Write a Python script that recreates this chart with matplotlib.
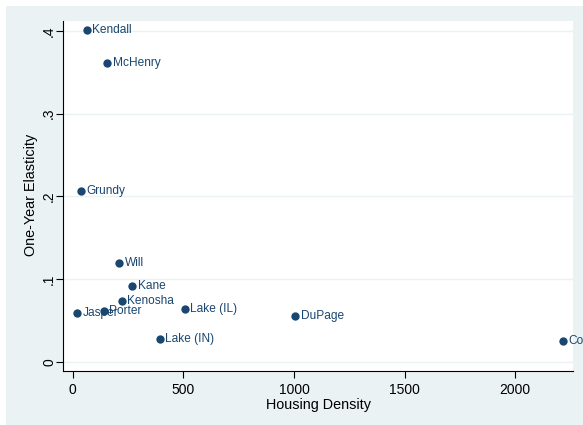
import matplotlib
matplotlib.use("Agg")
import matplotlib.pyplot as plt
from matplotlib.patches import Rectangle

plt.rcParams['font.family'] = ['Liberation Sans', 'DejaVu Sans']

counties = ["Kendall", "McHenry", "Grundy", "Will", "Kane", "Kenosha", "Jasper",
            "Porter", "Lake (IL)", "Lake (IN)", "DuPage", "Cook"]
density = [63, 155, 37, 210, 268, 221, 21, 140, 506, 394, 1006, 2215]
elasticity = [0.401, 0.361, 0.206, 0.119, 0.092, 0.073, 0.059, 0.0617, 0.0645,
              0.028, 0.056, 0.0254]

x_ticks = [0, 500, 1000, 1500, 2000]
y_ticks = [0, 0.1, 0.2, 0.3, 0.4]
y_tick_labels = ["0", ".1", ".2", ".3", ".4"]

navy = "#1a476f"
panel_bg = "#eaf2f3"

fig = plt.figure(figsize=(5.83, 4.25), dpi=100)
fig.patch.set_facecolor("white")
fig.patches.append(Rectangle((6 / 583, 0), 1, 419 / 425, transform=fig.transFigure,
                             facecolor=panel_bg, edgecolor="none", zorder=-10))

ax = fig.add_axes([63 / 583, 54 / 425, 510 / 583, 350 / 425])
ax.set_facecolor("white")

ax.scatter(density, elasticity, s=36, color=navy, zorder=3, linewidths=0)
for name, xv, yv in zip(counties, density, elasticity):
    ax.annotate(name, (xv, yv), xytext=(4, 0), textcoords="offset points",
                va="center", ha="left", fontsize=8.6, color=navy, clip_on=False,
                annotation_clip=False, zorder=4)

ax.set_xlim(-44, 2261)
ax.set_ylim(-0.011, 0.412)
ax.set_xticks(x_ticks)
ax.set_yticks(y_ticks)
ax.set_yticklabels(y_tick_labels, rotation=90, va="center")
ax.tick_params(axis="both", labelsize=10, length=5, width=0.8, colors="black")
ax.tick_params(axis="y", pad=0)

ax.yaxis.grid(True, color=panel_bg, linewidth=1.0, zorder=0)
ax.set_axisbelow(True)
for side in ("top", "right"):
    ax.spines[side].set_visible(False)
for side in ("left", "bottom"):
    ax.spines[side].set_linewidth(0.8)

ax.set_xlabel("Housing Density", fontsize=10.4, labelpad=1)
ax.set_ylabel("One-Year Elasticity", fontsize=10.4, va="center")
ax.yaxis.set_label_coords(-0.063, 0.503)

fig.savefig("out.png", dpi=100, facecolor=fig.get_facecolor())
